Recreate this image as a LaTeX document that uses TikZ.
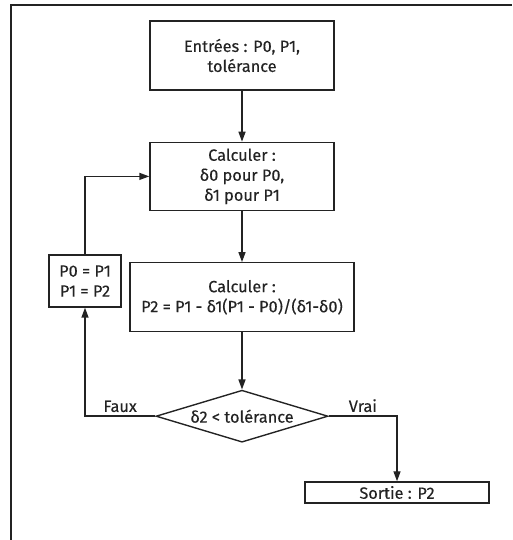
\documentclass[tikz,border=0pt]{standalone}
\usepackage{fontspec}
\setmainfont{Fira Sans}[FakeBold=0.25]
\usetikzlibrary{shapes.geometric, arrows.meta, positioning}
\definecolor{InkGray}{RGB}{35,35,35}

\begin{document}
\begin{tikzpicture}[x=1pt, y=1pt,
          box/.style={rectangle, draw=InkGray, line width=1.4pt, text=InkGray, minimum width=184pt, minimum height=69pt, align=center, font=\fontsize{16.3}{20}\selectfont},
          decision/.style={diamond, draw=InkGray, line width=1.4pt, text=InkGray, aspect=3.3, inner sep=0pt, minimum width=172pt, minimum height=52pt, font=\fontsize{16.3}{20}\selectfont},
          arrow/.style={-{Triangle[length=10pt, width=7pt]}, line width=1.4pt, InkGray},
          branch/.style={font=\fontsize{16.3}{20}\selectfont, text=InkGray}
        ]
          \useasboundingbox (0,0) rectangle (512,540);
          \draw [line width=2pt, InkGray] (11,0) -- (11,535) -- (512,535);

          \node (input) [box] at (242,484.5) {Entrées : P0, P1,\\tolérance};
          \node (deltas) [box, minimum height=68pt, below=51pt of input] {Calculer :\\δ0 pour P0,\\δ1 pour P1};
          \node (secant) [box, minimum width=224pt, below=51pt of deltas] {Calculer :\\P2 = P1 - δ1(P1 - P0)/(δ1-δ0)};
          \node (test) [decision, below=57pt of secant] {δ2 < tolérance};
          \node (update) [box, minimum width=72pt, minimum height=52pt, inner sep=2pt] at (85,259) {P0 = P1\\P1 = P2};
          \node (output) [box, minimum height=21pt, inner sep=0pt] at (397,47.5) {Sortie : P2};

          \draw [arrow] (input) -- (deltas);
          \draw [arrow] (deltas) -- (secant);
          \draw [arrow] (secant) -- (test);
          \draw [arrow] (test.west) -| node[branch, above, pos=0.25] {Faux} (update.south);
          \draw [arrow] (test.east) -| node[branch, above, pos=0.25] {Vrai} (output.north);
          \draw [arrow] (update.north) |- (deltas.west);
        \end{tikzpicture}
\end{document}
